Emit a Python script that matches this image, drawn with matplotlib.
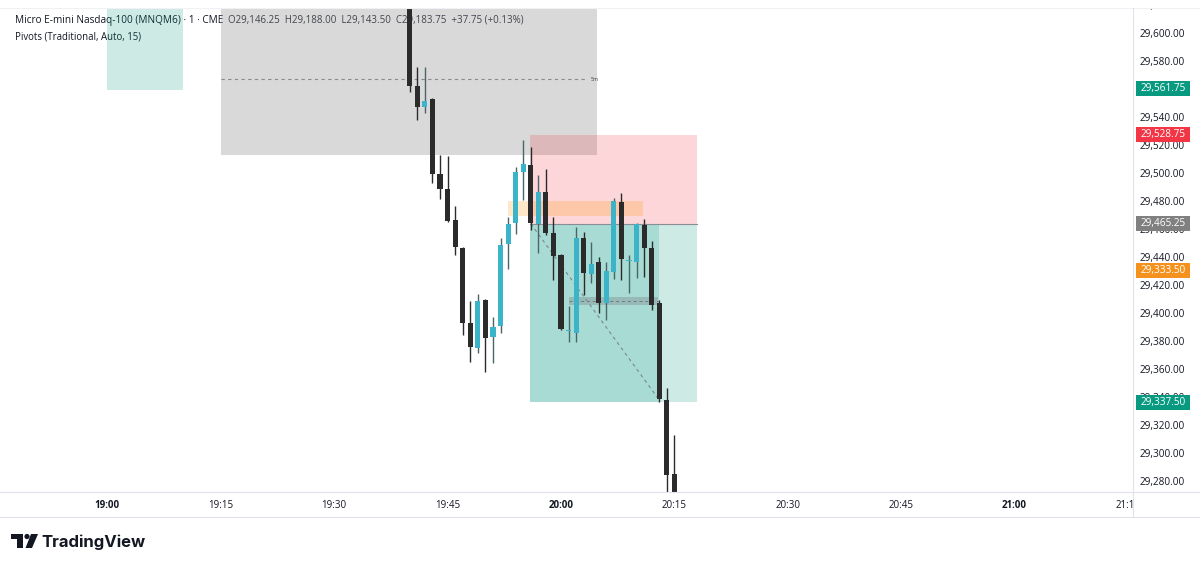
import matplotlib
matplotlib.use("Agg")
import matplotlib.pyplot as plt
from matplotlib.patches import Rectangle, Polygon, Circle

# ---------------- data ----------------
times = ["19:40", "19:41", "19:42", "19:43", "19:44", "19:45", "19:46", "19:47", "19:48",
         "19:49", "19:50", "19:51", "19:52", "19:53", "19:54", "19:55", "19:56", "19:57",
         "19:58", "19:59", "20:00", "20:01", "20:02", "20:03", "20:04", "20:05", "20:06",
         "20:07", "20:08", "20:09", "20:10", "20:11", "20:12", "20:13", "20:14", "20:15"]
opens = [29640.00, 29563.50, 29548.50, 29554.25, 29500.75, 29490.00, 29468.00, 29448.00,
         29394.25, 29376.50, 29410.75, 29384.25, 29392.00, 29450.75, 29465.75, 29502.00,
         29507.00, 29465.00, 29488.00, 29458.50, 29443.00, 29388.50, 29387.00, 29455.00,
         29429.25, 29438.00, 29408.50, 29430.75, 29480.75, 29438.50, 29438.00, 29464.25,
         29448.00, 29408.50, 29339.25, 29286.50]
highs = [29650.00, 29577.00, 29577.00, 29555.00, 29514.25, 29513.50, 29478.00, 29448.50,
         29410.00, 29415.00, 29411.50, 29398.50, 29455.00, 29470.00, 29505.75, 29525.00,
         29520.00, 29500.00, 29504.25, 29470.00, 29443.50, 29406.50, 29463.00, 29459.25,
         29452.00, 29441.50, 29438.00, 29483.50, 29487.00, 29443.00, 29465.75, 29468.50,
         29453.00, 29410.75, 29348.00, 29314.25]
lows = [29559.25, 29539.25, 29544.25, 29494.25, 29483.00, 29466.50, 29443.00, 29385.75,
        29366.50, 29373.00, 29359.25, 29365.75, 29387.00, 29433.00, 29458.00, 29482.00,
        29460.75, 29444.25, 29457.00, 29425.00, 29389.25, 29380.75, 29380.75, 29414.25,
        29423.00, 29401.50, 29396.50, 29425.75, 29425.00, 29415.75, 29426.50, 29427.00,
        29403.50, 29338.00, 29260.00, 29260.00]
closes = [29563.50, 29548.50, 29553.00, 29500.75, 29490.00, 29467.00, 29448.50, 29394.25,
          29377.00, 29410.00, 29383.50, 29391.50, 29450.00, 29465.00, 29502.00, 29508.00,
          29465.75, 29488.00, 29458.50, 29442.00, 29390.00, 29389.25, 29455.00, 29430.00,
          29436.50, 29408.50, 29431.50, 29481.50, 29440.00, 29439.25, 29465.00, 29448.00,
          29407.00, 29340.00, 29285.75, 29265.00]

# tick labels visible in the chart (29,560 is hidden behind a price tag)
price_ticks = [29280, 29300, 29320, 29340, 29360, 29380, 29400, 29420, 29440, 29460,
               29480, 29500, 29520, 29540, 29580, 29600, 29620]
time_ticks = ["19:00", "19:15", "19:30", "19:45", "20:00", "20:15", "20:30", "20:45", "21:00", "21:15"]
time_bold = ["19:00", "20:00", "21:00"]

tag_texts = ["29,561.75", "29,528.75", "29,465.25", "29,333.50", "29,337.50"]
tag_prices = [29561.75, 29528.75, 29465.25, 29432.00, 29337.50]
tag_colors = ["#089981", "#f23645", "#808080", "#f5921e", "#089981"]

# position tool
entry_price, stop_price, target_price = 29465.25, 29528.75, 29337.50

header_symbol = "Micro E-mini Nasdaq-100 (MNQM6) · 1 · CME"
header_ohlc = "O29,146.25  H29,188.00  L29,143.50  C29,183.75  +37.75 (+0.13%)"
header_ind = "Pivots (Traditional, Auto, 15)"


def tmin(s):
    h, m = s.split(":")
    return (int(h) - 20) * 60 + int(m)


xs = [tmin(t) for t in times]

# ---------------- figure ----------------
W, H = 1200, 567
fig = plt.figure(figsize=(12, 5.67), dpi=100)
fig.patch.set_facecolor("white")

top_px, bot_px, right_px = 8, 492, 1133
ax = fig.add_axes([0, 1 - bot_px / H, right_px / W, (bot_px - top_px) / H])
ppm = 7.56  # pixels per minute
ax.set_xlim(-561 / ppm, (right_px - 561) / ppm)
ppp = 1.4  # pixels per point
ax.set_ylim(29600 - (bot_px - 35) / ppp, 29600 + (35 - top_px) / ppp)
for s in ax.spines.values():
    s.set_visible(False)
ax.set_xticks([])
ax.set_yticks([])

FONT = "Open Sans"
TXT = "#131722"

# zones
ax.add_patch(Rectangle((-60, 29560.75), 10, 120, color="#089981", alpha=0.2, lw=0, zorder=1))
ax.add_patch(Rectangle((-45, 29514.25), 49.8, 150, color="#7f7f7f", alpha=0.29, lw=0, zorder=1))
ax.plot([-45, 3.2], [29568.5, 29568.5], ls=(0, (3, 3)), color="#8a8a8a", lw=0.8, zorder=2)
ax.text(3.9, 29568.5, "5m", fontsize=3.8, color="#333", va="center", family=FONT, zorder=2)

ax.add_patch(Rectangle((-4.1, entry_price), 22.1, stop_price - entry_price,
                       color="#f23645", alpha=0.2, lw=0, zorder=1))
ax.add_patch(Rectangle((-4.1, target_price), 17.1, entry_price - target_price,
                       color="#089981", alpha=0.35, lw=0, zorder=1))
ax.add_patch(Rectangle((13.0, target_price), 5.0, entry_price - target_price,
                       color="#089981", alpha=0.2, lw=0, zorder=1))
ax.plot([-4.1, 18], [entry_price, entry_price], color="#8a8c94", lw=0.8, zorder=2)
ax.add_patch(Rectangle((-7.0, 29470.75), 17.8, 10.75, color="#ff9800", alpha=0.22, lw=0, zorder=1.5))
ax.add_patch(Rectangle((1.05, 29407.0), 11.75, 6.0, color="#787b86", alpha=0.35, lw=0, zorder=1.5))
ax.plot([1.05, 12.8], [29410, 29410], ls=(0, (3, 3)), color="#6f7a7a", lw=0.7, zorder=2)
ax.plot([-4.0, 13.0], [entry_price, 29339.25], ls=(0, (3, 3)), color="#7d8790", lw=0.8, zorder=2)

# candles
bull_c, bear_c = "#3bb4ca", "#2b2b2b"
for x, o, h, l, c in zip(xs, opens, highs, lows, closes):
    up = c >= o
    col = bull_c if up else bear_c
    wcol = "#4a6568" if up else bear_c
    ax.plot([x, x], [l, h], color=wcol, lw=1.0, zorder=3, solid_capstyle="butt")
    hgt = max(abs(c - o), 0.9)
    ax.bar(x, hgt, bottom=min(o, c), width=0.68, color=col, lw=0, zorder=4)

# header legend (below candles)
fig.text(15 / W, 1 - 20 / H, header_symbol, fontsize=7.2, color=TXT, family=FONT,
         va="center", ha="left", zorder=0)
fig.text(228 / W, 1 - 20 / H, header_ohlc, fontsize=7.0, color="#2a2e39", family=FONT,
         va="center", ha="left", zorder=0)
fig.text(15 / W, 1 - 37 / H, header_ind, fontsize=6.9, color=TXT, family=FONT,
         va="center", ha="left", zorder=0)
ax.set_zorder(1)
ax.patch.set_alpha(0)

# price axis
pax = fig.add_axes([right_px / W, 1 - bot_px / H, (W - right_px) / W, (bot_px - top_px) / H])
pax.set_ylim(ax.get_ylim())
pax.set_xlim(0, 1)
pax.axis("off")
for p in price_ticks:
    pax.text(7 / 67, p, f"{p:,.2f}", fontsize=7.2, color=TXT, family=FONT,
             va="center", ha="left", clip_on=True)
for t, p, c in zip(tag_texts, tag_prices, tag_colors):
    pax.add_patch(Rectangle((3 / 67, p - 7.5 / ppp), 54 / 67, 15 / ppp, color=c, lw=0, zorder=5))
    pax.text(30 / 67, p, t, fontsize=7.2, color="white", family=FONT, va="center",
             ha="center", zorder=6)

# frame lines
line_col = "#e0e3eb"
fig.add_artist(plt.Line2D([0, 1], [1 - bot_px / H] * 2, color=line_col, lw=0.8))
fig.add_artist(plt.Line2D([0, 1], [1 - 517 / H] * 2, color=line_col, lw=0.8))
fig.add_artist(plt.Line2D([0, 1], [1 - top_px / H] * 2, color="#f0f1f4", lw=0.8))
fig.add_artist(plt.Line2D([right_px / W] * 2, [1 - 517 / H, 1 - top_px / H], color=line_col, lw=0.8))

# time axis
tax = fig.add_axes([0, 1 - 517 / H, right_px / W, 25 / H])
tax.set_xlim(ax.get_xlim())
tax.set_ylim(0, 1)
tax.axis("off")
for t in time_ticks:
    tax.text(tmin(t), 0.48, t, fontsize=7.0, color=TXT, family=FONT, ha="center", va="center",
             fontweight="bold" if t in time_bold else "normal", clip_on=True)

# TradingView logo
lax = fig.add_axes([0, 0, 1, 1], zorder=-1)
lax.set_xlim(0, W)
lax.set_ylim(H, 0)
lax.axis("off")
lax.add_patch(Rectangle((11, 534), 12, 4.5, color=TXT, lw=0))
lax.add_patch(Rectangle((17, 534), 5.5, 14, color=TXT, lw=0))
lax.add_patch(Circle((27, 536.5), 2.6, color=TXT, lw=0))
lax.add_patch(Polygon([[31, 534], [38, 534], [32, 548], [25.5, 548]], closed=True, color=TXT, lw=0))
lax.text(41, 542, "TradingView", fontsize=12, fontweight="bold", color=TXT, family="Inter",
         va="center", ha="left")

fig.savefig("out.png", dpi=100, facecolor="white")
